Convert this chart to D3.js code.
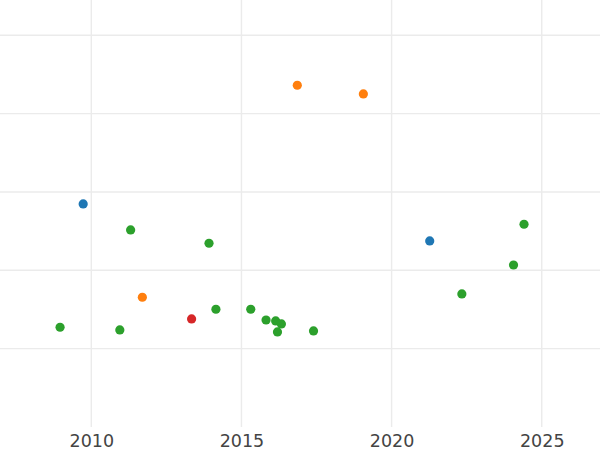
<!DOCTYPE html>
<html>
<head>
<meta charset="utf-8">
<script src="https://cdn.jsdelivr.net/npm/d3@7"></script>
<style>
  html, body { margin: 0; padding: 0; background: #fff; }
  svg { display: block; }
</style>
</head>
<body>
<svg id="chart" width="600" height="450"></svg>
<script>
// ---- data ----
const categories = ["blue", "orange", "green", "red"];
const categoryColors = ["#1f77b4", "#ff7f0e", "#2ca02c", "#d62728"];
const years = [2009.73, 2016.86, 2019.06, 2011.31, 2013.92, 2021.27, 2024.41, 2024.06, 2022.34, 2011.70,
               2008.96, 2010.95, 2013.34, 2014.15, 2015.31, 2015.82, 2016.14, 2016.33, 2016.20, 2017.40];
const values = [2.847, 4.362, 4.251, 2.515, 2.345, 2.375, 2.588, 2.068, 1.698, 1.656,
                1.273, 1.239, 1.379, 1.503, 1.503, 1.366, 1.354, 1.315, 1.213, 1.226];
const groups = ["blue", "orange", "orange", "green", "green", "blue", "green", "green", "green", "orange",
                "green", "green", "red", "green", "green", "green", "green", "green", "green", "green"];
const xTickValues = [2010, 2015, 2020, 2025];
const xTickLabels = ["2010", "2015", "2020", "2025"];
const yGridValues = [1, 2, 3, 4, 5];

// ---- layout ----
const W = 600, H = 450;
const plot = { left: 0, right: 600, top: 0, bottom: 427 };

const x = d3.scaleLinear().domain([2006.96, 2026.94]).range([plot.left, plot.right]);
const y = d3.scaleLinear().domain([0, 5.45]).range([plot.bottom, plot.top]);
const color = d3.scaleOrdinal().domain(categories).range(categoryColors);

const svg = d3.select("#chart");

// gridlines
const g = svg.append("g");
g.selectAll("line.h").data(yGridValues).join("line")
  .attr("x1", plot.left).attr("x2", plot.right)
  .attr("y1", d => y(d)).attr("y2", d => y(d))
  .attr("stroke", "#ebebeb").attr("stroke-width", 1.4);
g.selectAll("line.v").data(xTickValues).join("line")
  .attr("x1", d => x(d)).attr("x2", d => x(d))
  .attr("y1", plot.top).attr("y2", plot.bottom)
  .attr("stroke", "#ebebeb").attr("stroke-width", 1.4);

// x axis labels
const xAxis = d3.axisBottom(x).tickValues(xTickValues)
  .tickFormat((d, i) => xTickLabels[i]).tickSize(0).tickPadding(8);
const ax = svg.append("g").attr("transform", `translate(0,${plot.bottom})`).call(xAxis);
ax.select(".domain").remove();
ax.selectAll("text")
  .attr("fill", "#444")
  .style("font-family", "'DejaVu Sans', sans-serif")
  .style("font-size", "17.5px");

// points
const pts = years.map((yr, i) => ({ yr, v: values[i], g: groups[i] }));
svg.append("g").selectAll("circle").data(pts).join("circle")
  .attr("cx", d => x(d.yr))
  .attr("cy", d => y(d.v))
  .attr("r", 4.6)
  .attr("fill", d => color(d.g));
</script>
</body>
</html>
